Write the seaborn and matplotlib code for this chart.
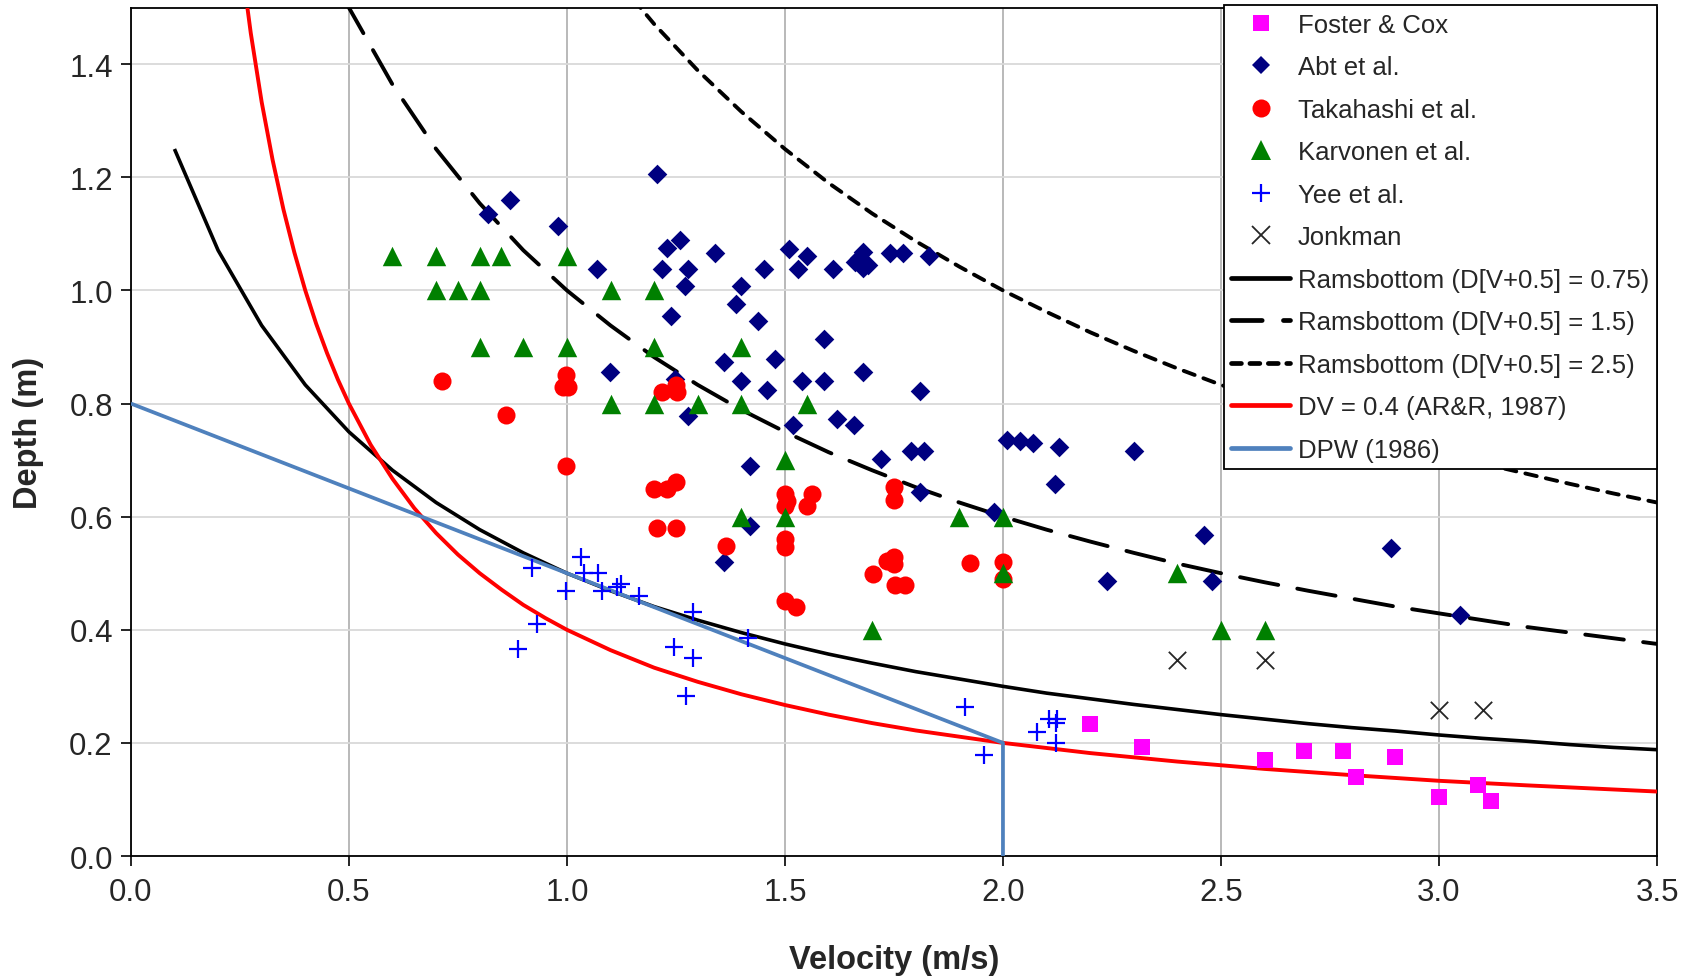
import matplotlib
matplotlib.use("Agg")
import matplotlib.pyplot as plt
from matplotlib.lines import Line2D
import pandas as pd
import seaborn as sns

# ---------------- data ----------------
foster_v = [2.20, 2.32, 2.60, 2.69, 2.78, 2.81, 2.90, 3.00, 3.09, 3.12]
foster_d = [0.233, 0.193, 0.170, 0.185, 0.185, 0.140, 0.175, 0.105, 0.125, 0.097]

abt_v = [0.818, 0.870, 0.979, 1.207, 1.068, 1.218, 1.229, 1.259, 1.277, 1.340,
         1.271, 1.399, 1.388, 1.238, 1.439, 1.451, 1.509, 1.550, 1.531, 1.610,
         1.660, 1.680, 1.690, 1.680, 1.670, 1.741, 1.770, 1.831, 1.099, 1.360,
         1.477, 1.590, 1.399, 1.460, 1.248, 1.540, 1.590, 1.680, 1.810, 1.277,
         1.519, 1.620, 1.659, 1.420, 1.720, 1.789, 1.820, 1.810, 1.360, 1.420,
         1.980, 2.010, 2.039, 2.070, 2.129, 2.119, 2.301, 2.239, 2.461, 2.480,
         2.889, 3.049]
abt_d = [1.135, 1.160, 1.114, 1.206, 1.038, 1.038, 1.075, 1.090, 1.038, 1.067,
         1.008, 1.008, 0.976, 0.954, 0.946, 1.038, 1.073, 1.061, 1.038, 1.038,
         1.050, 1.068, 1.045, 1.040, 1.058, 1.067, 1.067, 1.061, 0.855, 0.873,
         0.879, 0.914, 0.839, 0.824, 0.843, 0.839, 0.839, 0.855, 0.822, 0.778,
         0.762, 0.773, 0.762, 0.689, 0.702, 0.716, 0.716, 0.643, 0.519, 0.584,
         0.609, 0.736, 0.733, 0.730, 0.723, 0.657, 0.716, 0.487, 0.568, 0.487,
         0.545, 0.427]

taka_v = [0.714, 0.860, 0.998, 0.992, 1.003, 0.998, 1.219, 1.250, 1.252, 1.200,
          1.230, 1.250, 1.207, 1.250, 1.364, 1.500, 1.504, 1.500, 1.561, 1.551,
          1.500, 1.500, 1.500, 1.525, 1.750, 1.750, 1.702, 1.733, 1.750, 1.750,
          1.752, 1.775, 1.924, 2.000, 2.000]
taka_d = [0.840, 0.780, 0.850, 0.830, 0.830, 0.689, 0.820, 0.832, 0.820, 0.649,
          0.649, 0.661, 0.580, 0.580, 0.549, 0.640, 0.628, 0.619, 0.640, 0.619,
          0.560, 0.546, 0.450, 0.440, 0.652, 0.630, 0.499, 0.522, 0.528, 0.516,
          0.479, 0.479, 0.518, 0.519, 0.490]

karv_v = [0.60, 0.70, 0.80, 0.85, 1.00, 0.70, 0.75, 0.80, 1.10, 1.20,
          0.80, 0.90, 1.00, 1.20, 1.40, 1.10, 1.20, 1.30, 1.40, 1.55,
          1.50, 1.40, 1.50, 1.90, 2.00, 2.00, 2.40, 1.70, 2.50, 2.60]
karv_d = [1.06, 1.06, 1.06, 1.06, 1.06, 1.00, 1.00, 1.00, 1.00, 1.00,
          0.90, 0.90, 0.90, 0.90, 0.90, 0.80, 0.80, 0.80, 0.80, 0.80,
          0.70, 0.60, 0.60, 0.60, 0.60, 0.50, 0.50, 0.40, 0.40, 0.40]

yee_v = [1.032, 0.921, 1.040, 1.072, 0.998, 1.080, 1.114, 1.123, 1.166, 1.289,
         0.931, 0.887, 1.415, 1.246, 1.289, 1.273, 1.913, 1.956, 2.079, 2.106,
         2.123, 2.121, 2.121]
yee_d = [0.529, 0.510, 0.500, 0.500, 0.469, 0.469, 0.475, 0.481, 0.460, 0.431,
         0.411, 0.366, 0.385, 0.369, 0.350, 0.283, 0.263, 0.179, 0.220, 0.243,
         0.243, 0.236, 0.200]

jonk_v = [2.40, 2.60, 3.00, 3.10]
jonk_d = [0.347, 0.347, 0.259, 0.259]

# Ramsbottom D(V+0.5)=0.75
r075_v = [0.1, 0.2, 0.3, 0.4, 0.5, 0.6, 0.7, 0.8, 0.9, 1.0, 1.1, 1.2, 1.3, 1.4,
          1.5, 1.6, 1.7, 1.8, 1.9, 2.0, 2.1, 2.2, 2.3, 2.4, 2.5, 2.6, 2.7, 2.8,
          2.9, 3.0, 3.1, 3.2, 3.3, 3.4, 3.5]
r075_d = [1.250, 1.071, 0.938, 0.833, 0.750, 0.682, 0.625, 0.577, 0.536, 0.500,
          0.469, 0.441, 0.417, 0.395, 0.375, 0.357, 0.341, 0.326, 0.313, 0.300,
          0.288, 0.278, 0.268, 0.259, 0.250, 0.242, 0.234, 0.227, 0.221, 0.214,
          0.208, 0.203, 0.197, 0.192, 0.188]
# Ramsbottom D(V+0.5)=1.5
r15_v = [0.4, 0.5, 0.6, 0.7, 0.8, 0.9, 1.0, 1.1, 1.2, 1.3, 1.4, 1.5, 1.6, 1.7,
         1.8, 1.9, 2.0, 2.1, 2.2, 2.3, 2.4, 2.5, 2.6, 2.7, 2.8, 2.9, 3.0, 3.1,
         3.2, 3.3, 3.4, 3.5]
r15_d = [1.667, 1.500, 1.364, 1.250, 1.154, 1.071, 1.000, 0.938, 0.882, 0.833,
         0.789, 0.750, 0.714, 0.682, 0.652, 0.625, 0.600, 0.577, 0.556, 0.536,
         0.517, 0.500, 0.484, 0.469, 0.455, 0.441, 0.429, 0.417, 0.405, 0.395,
         0.385, 0.375]
# Ramsbottom D(V+0.5)=2.5
r25_v = [1.1, 1.2, 1.3, 1.4, 1.5, 1.6, 1.7, 1.8, 1.9, 2.0, 2.1, 2.2, 2.3, 2.4,
         2.5, 2.6, 2.7, 2.8, 2.9, 3.0, 3.1, 3.2, 3.3, 3.4, 3.5]
r25_d = [1.563, 1.471, 1.389, 1.316, 1.250, 1.190, 1.136, 1.087, 1.042, 1.000,
         0.962, 0.926, 0.893, 0.862, 0.833, 0.806, 0.781, 0.758, 0.735, 0.714,
         0.694, 0.676, 0.658, 0.641, 0.625]
# DV = 0.4
dv_v = [0.250, 0.275, 0.300, 0.325, 0.350, 0.375, 0.400, 0.425, 0.450, 0.475,
        0.500, 0.550, 0.600, 0.650, 0.700, 0.750, 0.800, 0.850, 0.900, 0.950,
        1.000, 1.100, 1.200, 1.300, 1.400, 1.500, 1.600, 1.700, 1.800, 1.900,
        2.000, 2.200, 2.400, 2.600, 2.800, 3.000, 3.200, 3.500]
dv_d = [1.600, 1.455, 1.333, 1.231, 1.143, 1.067, 1.000, 0.941, 0.889, 0.842,
        0.800, 0.727, 0.667, 0.615, 0.571, 0.533, 0.500, 0.471, 0.444, 0.421,
        0.400, 0.364, 0.333, 0.308, 0.286, 0.267, 0.250, 0.235, 0.222, 0.211,
        0.200, 0.182, 0.167, 0.154, 0.143, 0.133, 0.125, 0.114]
# DPW (1986)
dpw_v = [0.0, 2.0, 2.0]
dpw_d = [0.8, 0.2, 0.0]

x_ticks = [0.0, 0.5, 1.0, 1.5, 2.0, 2.5, 3.0, 3.5]
y_ticks = [0.0, 0.2, 0.4, 0.6, 0.8, 1.0, 1.2, 1.4]

labels = ["Foster & Cox", "Abt et al.", "Takahashi et al.", "Karvonen et al.",
          "Yee et al.", "Jonkman", "Ramsbottom (D[V+0.5] = 0.75)",
          "Ramsbottom (D[V+0.5] = 1.5)", "Ramsbottom (D[V+0.5] = 2.5)",
          "DV = 0.4 (AR&R, 1987)", "DPW (1986)"]

# ---------------- style ----------------
sns.set_style("white")
plt.rcParams["font.family"] = ["Liberation Sans", "DejaVu Sans"]

fig = plt.figure(figsize=(16.95, 9.78), dpi=100)
ax = fig.add_axes([0.0772, 0.1237, 0.9004, 0.8675])

C_MAG, C_NAVY, C_RED, C_GREEN, C_BLUE = "#FF00FF", "#000080", "#FF0000", "#008000", "#0000FF"
C_DPW = "#4F81BD"

def line(v, d, color, dashes=None, lw=2.6, z=3):
    df = pd.DataFrame({"v": v, "d": d})
    sns.lineplot(data=df, x="v", y="d", sort=False, estimator=None, color=color,
                 lw=lw, ax=ax, zorder=z)
    ln = ax.lines[-1]
    ln.set_solid_capstyle("butt")
    ln.set_solid_joinstyle("round")
    if dashes is not None:
        ln.set_dashes(dashes)
        ln.set_dash_capstyle("round")
    return ln

line(r075_v, r075_d, "black", lw=2.6)
line(r15_v, r15_d, "black", dashes=(10, 5), lw=2.8)
line(r25_v, r25_d, "black", dashes=(3.0, 2.4), lw=2.8)
line(dv_v, dv_d, C_RED, lw=2.8)
line(dpw_v, dpw_d, C_DPW, lw=2.7)

def pts(v, d, **kw):
    df = pd.DataFrame({"v": v, "d": d})
    sns.scatterplot(data=df, x="v", y="d", ax=ax, zorder=5, **kw)

pts(foster_v, foster_d, marker="s", s=11.5**2, color=C_MAG, linewidth=0)
pts(abt_v, abt_d, marker="D", s=10**2, color=C_NAVY, linewidth=0)
pts(taka_v, taka_d, marker="o", s=13**2, color=C_RED, linewidth=0)
pts(karv_v, karv_d, marker="^", s=14**2, color=C_GREEN, linewidth=0)
pts(yee_v, yee_d, marker="+", s=13**2, color=C_BLUE, linewidth=1.6)
pts(jonk_v, jonk_d, marker="x", s=12.5**2, color="#262626", linewidth=1.3)

ax.set_xlim(0, 3.5)
ax.set_ylim(0, 1.5)
ax.set_xticks(x_ticks)
ax.set_yticks(y_ticks)
ax.set_xticklabels([f"{t:.1f}" for t in x_ticks])
ax.set_yticklabels([f"{t:.1f}" for t in y_ticks])
ax.tick_params(axis="both", which="major", labelsize=22.5, direction="out",
               length=7, width=1.2, color="black", pad=6, bottom=True, left=True)
ax.tick_params(axis="x", pad=8)

ax.set_axisbelow(True)
ax.xaxis.grid(True, color="#A6A6A6", lw=1.1)
ax.yaxis.grid(True, color="#D9D9D9", lw=1.3)
for sp in ax.spines.values():
    sp.set_visible(True)
    sp.set_color("black")
    sp.set_linewidth(1.3)

ax.set_xlabel("Velocity (m/s)", fontsize=23.5, fontweight="bold", labelpad=27)
ax.set_ylabel("Depth (m)", fontsize=23.5, fontweight="bold", labelpad=18)

handles = [
    Line2D([], [], ls="none", marker="s", ms=11.5, color=C_MAG, mew=0),
    Line2D([], [], ls="none", marker="D", ms=9.5, color=C_NAVY, mew=0),
    Line2D([], [], ls="none", marker="o", ms=13, color=C_RED, mew=0),
    Line2D([], [], ls="none", marker="^", ms=14, color=C_GREEN, mew=0),
    Line2D([], [], ls="none", marker="+", ms=13, color=C_BLUE, mew=1.6),
    Line2D([], [], ls="none", marker="x", ms=12.5, color="#262626", mew=1.3),
    Line2D([], [], color="black", lw=3.4, solid_capstyle="round"),
    Line2D([], [], color="black", lw=3.4, dashes=(6.5, 4.5), dash_capstyle="round"),
    Line2D([], [], color="black", lw=3.4, dashes=(2.1, 1.8), dash_capstyle="round"),
    Line2D([], [], color=C_RED, lw=3.4, solid_capstyle="round"),
    Line2D([], [], color=C_DPW, lw=3.4, solid_capstyle="round"),
]
leg = ax.legend(handles, labels, loc="upper right", bbox_to_anchor=(1.0, 1.003),
                borderaxespad=0, fontsize=18.5, frameon=True, fancybox=False,
                edgecolor="black", framealpha=1, handlelength=2.3,
                handletextpad=0.3, labelspacing=0.72, borderpad=0.3)
leg.get_frame().set_linewidth(1.3)
leg.set_zorder(10)

fig.savefig("out.png", dpi=100)
